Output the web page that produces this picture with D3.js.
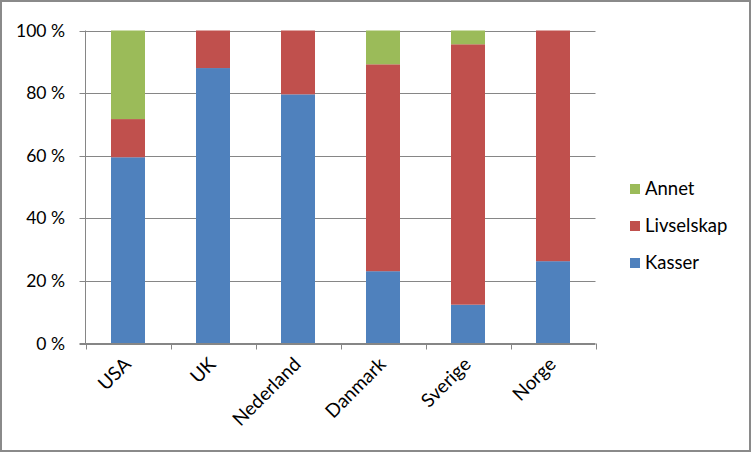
<!DOCTYPE html>
<html><head><meta charset="utf-8">
<script src="https://cdn.jsdelivr.net/npm/d3@7"></script>
<style>
html,body{margin:0;padding:0;background:#fff;}
svg{display:block;font-family:Lato,"Open Sans",sans-serif;}
</style></head>
<body>
<svg id="chart" width="751" height="452"></svg>
<script>
const categories = ["USA","UK","Nederland","Danmark","Sverige","Norge"];
const kasser     = [59.5, 88.0, 79.6, 23.1, 12.4, 26.3];
const livselskap = [12.2, 12.0, 20.4, 66.1, 83.2, 73.7];
const annet      = [28.3,  0.0,  0.0, 10.8,  4.4,  0.0];
const seriesNames = ["Kasser","Livselskap","Annet"];
const colors = ["#4F81BD","#C0504D","#9BBB59"];
const yTicks = [0,20,40,60,80,100];

(function(){
const svg = d3.select("#chart");
const W = 751, H = 452;
svg.append("rect").attr("x",1).attr("y",1).attr("width",W-2).attr("height",H-2)
  .attr("fill","#fff").attr("stroke","#8a8a8a").attr("stroke-width",2);

const pl = 85.5, pr = 595.5, pt = 30.5, pb = 343.5;
const x = d3.scaleBand().domain(categories).range([pl,pr]).paddingInner(0.6).paddingOuter(0.3);
const y = d3.scaleLinear().domain([0,100]).range([pb,pt]);

svg.append("g").selectAll("line").data(yTicks).join("line")
  .attr("x1",pl-6).attr("x2",pr).attr("y1",d=>Math.round(y(d))+0.5).attr("y2",d=>Math.round(y(d))+0.5)
  .attr("stroke","#868686").attr("stroke-width",1);

const rows = categories.map((c,i)=>({cat:c, Kasser:kasser[i], Livselskap:livselskap[i], Annet:annet[i]}));
const stack = d3.stack().keys(seriesNames)(rows);
svg.append("g").selectAll("g").data(stack).join("g")
  .attr("fill",(d,i)=>colors[i])
  .selectAll("rect").data(d=>d).join("rect")
  .attr("x",d=>x(d.data.cat)).attr("width",x.bandwidth())
  .attr("y",d=>y(d[1])).attr("height",d=>Math.max(0,y(d[0])-y(d[1])));

svg.append("line").attr("x1",pl).attr("x2",pl).attr("y1",pt).attr("y2",pb)
  .attr("stroke","#868686");
svg.append("line").attr("x1",pl-6).attr("x2",pr).attr("y1",pb).attr("y2",pb)
  .attr("stroke","#868686");
const step = x.step();
const bTicks = d3.range(categories.length+1).map(i=>pl + i*step);
svg.append("g").selectAll("line").data(bTicks).join("line")
  .attr("x1",d=>Math.round(d)+0.5).attr("x2",d=>Math.round(d)+0.5).attr("y1",pb).attr("y2",pb+6)
  .attr("stroke","#868686");

svg.append("g").selectAll("text").data(yTicks).join("text")
  .attr("x",65).attr("y",d=>y(d)).attr("dy","0.35em").attr("text-anchor","end")
  .attr("font-size",17.5).attr("fill","#000").text(d=>d+" %");

svg.append("g").selectAll("text").data(categories).join("text")
  .attr("transform",d=>`translate(${x(d)+x.bandwidth()/2+4},${pb+22}) rotate(-45)`)
  .attr("text-anchor","end").attr("font-size",19).attr("fill","#000").text(d=>d);

const legendItems = ["Annet","Livselskap","Kasser"];
const legendColors = {"Annet":"#9BBB59","Livselskap":"#C0504D","Kasser":"#4F81BD"};
const lg = svg.append("g").selectAll("g").data(legendItems).join("g")
  .attr("transform",(d,i)=>`translate(630,${189+i*37})`);
lg.append("rect").attr("x",0).attr("y",-5).attr("width",10).attr("height",10).attr("fill",d=>legendColors[d]);
lg.append("text").attr("x",15).attr("y",0).attr("dy","0.35em").attr("font-size",18.5).text(d=>d);
})();
</script>
</body></html>
